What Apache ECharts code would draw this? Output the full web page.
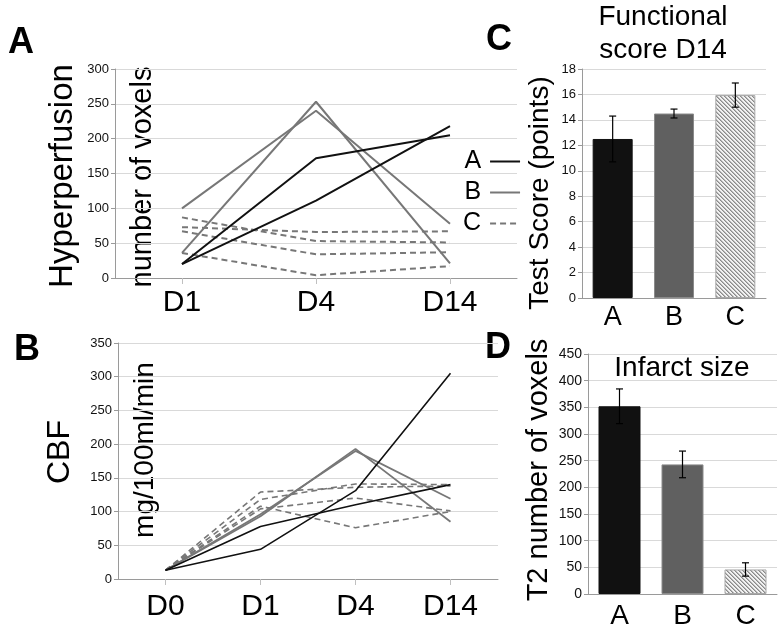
<!DOCTYPE html>
<html>
<head>
<meta charset="utf-8">
<script src="https://cdn.jsdelivr.net/npm/echarts@6/dist/echarts.min.js"></script>
<style>
html,body{margin:0;padding:0;background:#fff;}
#chart{width:782px;height:630px;}
</style>
</head>
<body>
<div id="chart"></div>
<script>
// ---- Data ----
const catA = ['D1', 'D4', 'D14'];
const hypA = [[20, 172, 205], [20, 111, 218]];
const hypB = [[100, 240, 78], [36, 253, 21]];
const hypC = [[87, 53, 51], [73, 66, 67], [67, 34, 37], [36, 4, 17]];

const catB = ['D0', 'D1', 'D4', 'D14'];
const cbfA = [[13, 78, 110, 140], [13, 44, 131, 305]];
const cbfB = [[13, 93, 193, 85], [13, 96, 190, 119]];
const cbfC = [[13, 129, 136, 138], [13, 118, 141, 140], [13, 104, 120, 101], [13, 108, 76, 100]];

const groups = ['A', 'B', 'C'];
const scoreMean = [12.5, 14.5, 15.95];
const scoreErr = [1.8, 0.35, 0.95];
const infarctMean = [352, 243, 46];
const infarctErr = [32.5, 25, 12.5];

// ---- Styles ----
const FONT = '"Liberation Sans", Arial, sans-serif';
const BLACK = '#111111';
const GRAY = '#777777';
const GRID = '#d9d9d9';
const AXIS = '#9a9a9a';

function hatch() {
  const c = document.createElement('canvas');
  c.width = 4; c.height = 4;
  const ctx = c.getContext('2d');
  ctx.fillStyle = '#f2f2f2';
  ctx.fillRect(0, 0, 4, 4);
  ctx.fillStyle = '#8a8a8a';
  for (let i = 0; i < 4; i++) { ctx.fillRect(i, i, 1, 1); }
  ctx.fillStyle = '#b8b8b8';
  for (let i = 0; i < 4; i++) { ctx.fillRect((i + 1) % 4, i, 1, 1); }
  return c;
}
const hatchFill = { image: hatch(), repeat: 'repeat' };

const chart = echarts.init(document.getElementById('chart'), null, { renderer: 'canvas' });

function lineSeries(name, data, xi, yi, color, width, dashed) {
  return {
    name: name, type: 'line', xAxisIndex: xi, yAxisIndex: yi,
    data: data, symbol: 'none', silent: true, animation: false,
    lineStyle: { color: color, width: width, type: dashed ? [6, 4] : 'solid' },
    itemStyle: { color: color }
  };
}

const series = [];
hypC.forEach(d => series.push(lineSeries('C', d, 0, 0, GRAY, 2, true)));
hypB.forEach(d => series.push(lineSeries('B', d, 0, 0, GRAY, 2, false)));
hypA.forEach(d => series.push(lineSeries('A', d, 0, 0, BLACK, 2, false)));
cbfC.forEach(d => series.push(lineSeries('C', d, 1, 1, GRAY, 1.6, true)));
cbfB.forEach(d => series.push(lineSeries('B', d, 1, 1, GRAY, 1.8, false)));
cbfA.forEach(d => series.push(lineSeries('A', d, 1, 1, BLACK, 1.6, false)));

const barColors = [BLACK, '#606060', hatchFill];
const barBorders = [BLACK, '#8a8a8a', '#a8a8a8'];

function barSeries(name, means, xi, yi, bw) {
  return {
    name: name, type: 'bar', xAxisIndex: xi, yAxisIndex: yi, barWidth: bw,
    animation: false, silent: true,
    data: means.map((v, i) => ({
      value: v,
      itemStyle: { color: barColors[i], borderColor: barBorders[i], borderWidth: 1 }
    }))
  };
}
function errSeries(name, means, errs, xi, yi) {
  return {
    name: name, type: 'custom', xAxisIndex: xi, yAxisIndex: yi, z: 10,
    animation: false, silent: true,
    data: means.map((v, i) => [i, v, errs[i]]),
    renderItem: function (params, api) {
      const x = api.value(0), m = api.value(1), e = api.value(2);
      const top = api.coord([x, m + e]);
      const bot = api.coord([x, m - e]);
      const hw = 3.5;
      const st = { stroke: '#000', lineWidth: 1.2 };
      return {
        type: 'group', children: [
          { type: 'line', shape: { x1: top[0], y1: top[1], x2: bot[0], y2: bot[1] }, style: st },
          { type: 'line', shape: { x1: top[0] - hw, y1: top[1], x2: top[0] + hw, y2: top[1] }, style: st },
          { type: 'line', shape: { x1: bot[0] - hw, y1: bot[1], x2: bot[0] + hw, y2: bot[1] }, style: st }
        ]
      };
    }
  };
}
series.push(barSeries('Functional score', scoreMean, 2, 2, 40));
series.push(errSeries('Functional score error', scoreMean, scoreErr, 2, 2));
series.push(barSeries('Infarct size', infarctMean, 3, 3, 42));
series.push(errSeries('Infarct size error', infarctMean, infarctErr, 3, 3));

function yAx(gi, max, interval, fs) {
  return {
    type: 'value', gridIndex: gi, min: 0, max: max, interval: interval,
    axisLine: { show: true, lineStyle: { color: AXIS, width: 1 } },
    axisTick: { show: true, length: 4, lineStyle: { color: AXIS } },
    axisLabel: { fontSize: fs, color: '#111', fontFamily: FONT, margin: 6 },
    splitLine: { show: true, lineStyle: { color: GRID, width: 1 } }
  };
}
function xAx(gi, cats, fs, margin, ticks) {
  return {
    type: 'category', gridIndex: gi, data: cats, boundaryGap: true,
    axisLine: { show: true, lineStyle: { color: AXIS, width: 1 } },
    axisTick: { show: ticks, alignWithLabel: true, length: 6, lineStyle: { color: '#c0c0c0' } },
    axisLabel: { fontSize: fs, color: '#000', fontFamily: FONT, margin: margin },
    splitLine: { show: false }
  };
}

function rotText(text, x, y, fs) {
  return {
    type: 'text', x: x, y: y, rotation: Math.PI / 2, silent: true,
    style: { text: text, fontSize: fs, fontFamily: FONT, fill: '#000', align: 'center', verticalAlign: 'middle' }
  };
}
function txt(text, x, y, fs, bold) {
  return {
    type: 'text', x: x, y: y, silent: true,
    style: { text: text, fontSize: fs, fontFamily: FONT, fontWeight: bold ? 'bold' : 'normal', fill: '#000', align: 'center', verticalAlign: 'middle' }
  };
}

const option = {
  backgroundColor: '#ffffff',
  animation: false,
  grid: [
    { left: 115, top: 69, width: 402, height: 209 },
    { left: 118, top: 343, width: 380, height: 236 },
    { left: 582, top: 69, width: 184, height: 229 },
    { left: 588, top: 354, width: 189, height: 240 }
  ],
  xAxis: [
    xAx(0, catA, 30, 10, true),
    xAx(1, catB, 30, 13, true),
    xAx(2, groups, 27, 6, false),
    xAx(3, groups, 28, 8, false)
  ],
  yAxis: [
    yAx(0, 300, 50, 13),
    yAx(1, 350, 50, 13),
    yAx(2, 18, 2, 13),
    yAx(3, 450, 50, 14)
  ],
  legend: {
    data: ['A', 'B', 'C'],
    orient: 'vertical', left: 458, top: 144, align: 'right',
    itemWidth: 30, itemHeight: 18, itemGap: 6,
    itemStyle: { opacity: 0, borderWidth: 0 },
    textStyle: { fontSize: 25, color: '#000', fontFamily: FONT, padding: [0, 4, 0, 0] }
  },
  graphic: [
    txt('A', 21, 43, 36, true),
    txt('B', 27, 350, 36, true),
    txt('C', 499, 40, 36, true),
    txt('D', 498, 348, 36, true),
    rotText('Hyperperfusion', 63, 176, 33),
    rotText('number of voxels', 143, 177, 29),
    rotText('CBF', 60, 452, 32),
    rotText('mg/100ml/min', 145, 450, 28),
    rotText('Test Score (points)', 540, 193, 28),
    rotText('T2 number of voxels', 539, 470, 29),
    txt('Functional', 663, 17, 28, false),
    txt('score D14', 663, 50, 28, false),
    txt('Infarct size', 682, 368, 28, false)
  ],
  series: series
};
chart.setOption(option);
</script>
</body>
</html>
